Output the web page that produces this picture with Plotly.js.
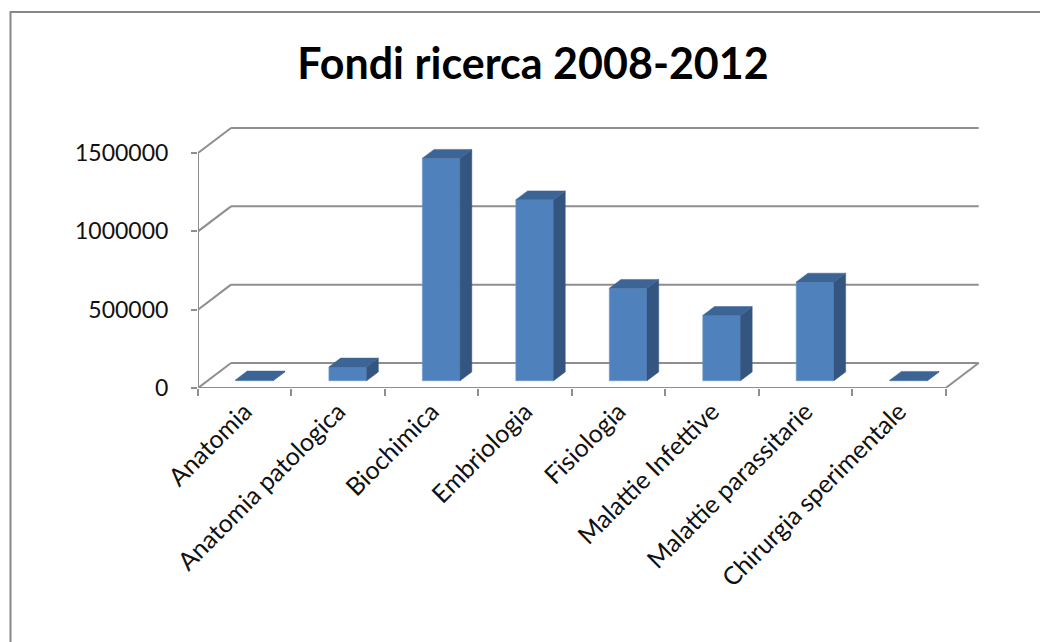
<!DOCTYPE html>
<html>
<head>
<meta charset="utf-8">
<script src="https://cdn.plot.ly/plotly-3.0.1.min.js"></script>
<style>html,body{margin:0;padding:0;background:#fff;}#chart{width:1040px;height:642px;}</style>
</head>
<body>
<div id="chart"></div>
<script>
// ---- data ----
const categories = ["Anatomia", "Anatomia patologica", "Biochimica", "Embriologia",
  "Fisiologia", "Malattie Infettive", "Malattie parassitarie", "Chirurgia sperimentale"];
const values = [5000, 88000, 1420000, 1155000, 590000, 417000, 630000, 3000];
const yTickVals = [0, 500000, 1000000, 1500000];
const yTickText = ["0", "500000", "1000000", "1500000"];
const chartTitle = "Fondi ricerca 2008-2012";

// ---- geometry / style ----
const W = 1040, H = 642;
const L = 198, B = 388, R = 986, T = 124;
const pxPerCat = 93.46;
const pxPerVal = 235 / 1500000;
const DX = 33 / pxPerCat, DY = 25 / pxPerVal;      // full floor depth
const f0 = 0.29, fd = 0.355;                        // bar front position / bar depth (fraction)
const barW = 37.7 / pxPerCat;
const xRange = [-0.5, -0.5 + (R - L) / pxPerCat];
const yRange = [0, (B - T) / pxPerVal];
const gridColor = "#8e8e8e";
const cFront = "#4F81BD", cSide = "#34557F", cTop = "#3C6494";
const font = "Lato, 'Open Sans', sans-serif";

const idx = categories.map((_, i) => i);
const traces = [];

// front faces
traces.push({
  type: "bar", x: idx.map(i => i + f0 * DX), y: values,
  base: values.map(() => f0 * DY), width: barW,
  marker: {color: cFront, line: {width: 0.6, color: "#6d98cc"}},
  hoverinfo: "skip", showlegend: false
});
// side & top faces
values.forEach((v, i) => {
  const xl = i + f0 * DX - barW / 2, xr = i + f0 * DX + barW / 2;
  const b = f0 * DY, t = b + v, ddx = fd * DX, ddy = fd * DY;
  traces.push({type: "scatter", mode: "lines", fill: "toself", fillcolor: cSide,
    x: [xr, xr, xr + ddx, xr + ddx, xr], y: [b, t, t + ddy, b + ddy, b],
    line: {width: 0.5, color: cSide}, hoverinfo: "skip", showlegend: false});
  traces.push({type: "scatter", mode: "lines", fill: "toself", fillcolor: cTop,
    x: [xl, xr, xr + ddx, xl + ddx, xl], y: [t, t, t + ddy, t + ddy, t],
    line: {width: 0.5, color: cTop}, hoverinfo: "skip", showlegend: false});
});
// dummy trace for tick-mark axis
traces.push({type: "scatter", x: [], y: [], xaxis: "x2", yaxis: "y", showlegend: false, hoverinfo: "skip"});

// walls / floor
const shapes = [];
const ln = (x0, y0, x1, y1) => shapes.push({type: "line", xref: "x", yref: "y", layer: "below",
  x0, y0, x1, y1, line: {color: gridColor, width: 2}});
const n = categories.length;
yTickVals.forEach(v => {
  ln(-0.5, v, -0.5 + DX, v + DY);
  ln(-0.5 + DX, v + DY, n - 0.5 + DX, v + DY);
});
ln(-0.5, 0, n - 0.5, 0);
ln(n - 0.5, 0, n - 0.5 + DX, DY);
ln(-0.5, 0, -0.5, yTickVals[yTickVals.length - 1]);
// outer chart border
shapes.push({type: "rect", xref: "paper", yref: "paper", layer: "below",
  x0: (10.5 - L) / (R - L), x1: (1060 - L) / (R - L),
  y0: (B - 700) / (B - T), y1: (B - 12) / (B - T),
  line: {color: "#888", width: 2}, fillcolor: "rgba(0,0,0,0)"});

const layout = {
  width: W, height: H,
  margin: {l: L, r: W - R, t: T, b: H - B, pad: 0},
  paper_bgcolor: "#fff", plot_bgcolor: "rgba(0,0,0,0)",
  barmode: "overlay",
  title: {text: "<b>" + chartTitle + "</b>", font: {family: font, size: 43, color: "#000"},
    x: 533 / W, xref: "container", xanchor: "center", y: 1 - 64 / H, yref: "container", yanchor: "middle"},
  xaxis: {range: xRange, tickmode: "array", tickvals: idx, ticktext: categories, tickangle: -45,
    ticks: "", showgrid: false, zeroline: false, showline: false,
    tickfont: {family: font, size: 25, color: "#111"}, ticklabelstandoff: 3, fixedrange: true},
  xaxis2: {range: xRange, overlaying: "x", anchor: "y", side: "bottom", tickmode: "array",
    tickvals: idx.map(i => i - 0.5).concat([n - 0.5]), showticklabels: false,
    ticks: "outside", ticklen: 7, tickwidth: 2, tickcolor: gridColor,
    showgrid: false, zeroline: false, showline: false},
  yaxis: {range: yRange, tickmode: "array", tickvals: yTickVals, ticktext: yTickText,
    ticks: "outside", ticklen: 6, tickwidth: 2, tickcolor: gridColor,
    showgrid: false, zeroline: false, showline: false,
    tickfont: {family: font, size: 23, color: "#111"}, ticklabelstandoff: 18, fixedrange: true},
  shapes: shapes,
  showlegend: false
};

Plotly.newPlot("chart", traces, layout, {displayModeBar: false, staticPlot: true});
</script>
</body>
</html>
